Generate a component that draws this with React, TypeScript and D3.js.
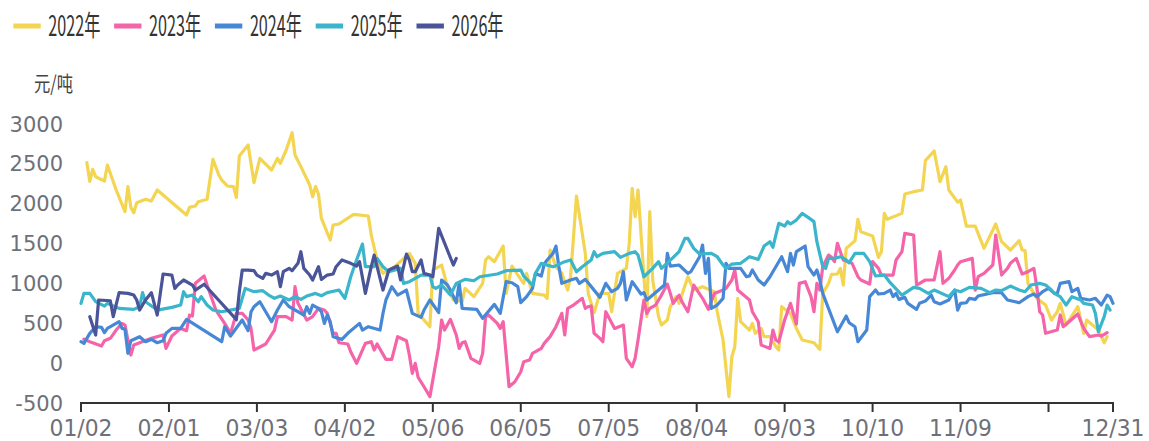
import React from 'react';
import * as d3 from 'd3';

type Pt = [string, number];

// days that are not on the category axis (holidays)
const skippedDays = ['05/01', '05/02', '05/03', '05/04', '10/01', '10/02', '10/03', '10/04', '10/05', '10/06', '10/07'];

const categories: string[] = d3.timeDay
  .range(new Date(2021, 0, 2), new Date(2022, 0, 1))
  .map(d3.timeFormat('%m/%d'))
  .filter(d => !skippedDays.includes(d));

const xTicks = ['01/02', '02/01', '03/03', '04/02', '05/06', '06/05', '07/05', '08/04', '09/03', '10/10', '11/09', '12/09', '12/31'];
const xLabels = ['01/02', '02/01', '03/03', '04/02', '05/06', '06/05', '07/05', '08/04', '09/03', '10/10', '11/09', '12/31'];
const yTicks = [-500, 0, 500, 1000, 1500, 2000, 2500, 3000];

const seriesNames = ['2022年', '2023年', '2024年', '2025年', '2026年'];
const seriesColors = ['#f3d552', '#f564a8', '#4788d6', '#3ab5cb', '#4a5499'];

const s2022: Pt[] = [
  ['01/04', 2515], ['01/05', 2280], ['01/06', 2430], ['01/07', 2340], ['01/08', 2320], ['01/10', 2285], ['01/11', 2485],
  ['01/14', 2172], ['01/17', 1900], ['01/18', 2214], ['01/19', 1954], ['01/20', 1887], ['01/21', 2013], ['01/24', 2055],
  ['01/26', 2034], ['01/28', 2172], ['02/07', 1858], ['02/08', 1954], ['02/10', 1971], ['02/11', 2025], ['02/14', 2055],
  ['02/16', 2557], ['02/18', 2360], ['02/19', 2297], ['02/21', 2222], ['02/23', 2214], ['02/24', 2080], ['02/25', 2598],
  ['02/28', 2736], ['03/02', 2265], ['03/04', 2569], ['03/08', 2423], ['03/10', 2569], ['03/11', 2506], ['03/13', 2674],
  ['03/15', 2891], ['03/16', 2611], ['03/18', 2465], ['03/21', 2235], ['03/22', 2088], ['03/23', 2214], ['03/24', 2122],
  ['03/25', 1816], ['03/28', 1545], ['03/29', 1733], ['03/31', 1745], ['04/05', 1867], ['04/10', 1846], ['04/11', 1607],
  ['04/13', 1294], ['04/15', 1126], ['04/19', 1210], ['04/24', 1377], ['04/26', 1252], ['04/27', 624], ['05/05', 457],
  ['05/06', 1168], ['05/09', 1231], ['05/11', 959], ['05/13', 792], ['05/16', 771], ['05/17', 938], ['05/20', 834],
  ['05/23', 1001], ['05/24', 1294], ['05/25', 1335], ['05/27', 1273], ['05/30', 1469], ['05/31', 875], ['06/02', 1218],
  ['06/04', 1105], ['06/06', 1001], ['06/07', 1126], ['06/09', 875], ['06/13', 854], ['06/14', 813], ['06/15', 1419],
  ['06/17', 1210], ['06/19', 1126], ['06/21', 917], ['06/22', 1084], ['06/24', 2096], ['06/27', 1377], ['06/28', 875],
  ['06/30', 633], ['07/02', 875], ['07/05', 875], ['07/06', 645], ['07/08', 1126], ['07/11', 1189], ['07/12', 1503],
  ['07/13', 2193], ['07/14', 1837], ['07/15', 2172], ['07/17', 1084], ['07/18', 583], ['07/19', 1900], ['07/20', 1043],
  ['07/22', 583], ['07/23', 478], ['07/25', 541], ['07/26', 708], ['07/28', 834], ['07/29', 750], ['08/01', 1084],
  ['08/03', 917], ['08/06', 959], ['08/10', 896], ['08/11', 645], ['08/13', 290], ['08/15', -421], ['08/16', 81],
  ['08/17', 206], ['08/18', 813], ['08/19', 520], ['08/22', 415], ['08/23', 499], ['08/24', 374], ['08/26', 436],
  ['08/27', 332], ['08/29', 332], ['08/31', 206], ['09/01', 164], ['09/02', 708], ['09/05', 624], ['09/07', 436],
  ['09/09', 290], ['09/13', 256], ['09/15', 173], ['09/16', 875], ['09/18', 1001], ['09/19', 1114], ['09/21', 1118],
  ['09/22', 1189], ['09/23', 980], ['09/24', 1440], ['09/27', 1536], ['09/28', 1804], ['09/29', 1649], ['10/10', 1595],
  ['10/12', 1327], ['10/13', 1398], ['10/14', 1879], ['10/15', 1804], ['10/20', 1879], ['10/21', 2122], ['10/24', 2151],
  ['10/27', 2172], ['10/28', 2540], ['10/31', 2661], ['11/02', 2276], ['11/04', 2465], ['11/05', 2172], ['11/08', 2020],
  ['11/09', 2046], ['11/11', 1720], ['11/14', 1720], ['11/17', 1440], ['11/21', 1745], ['11/23', 1524], ['11/26', 1419],
  ['11/29', 1536], ['11/30', 1419], ['12/01', 1411], ['12/02', 1001], ['12/05', 813], ['12/08', 729], ['12/10', 541],
  ['12/12', 645], ['12/13', 750], ['12/15', 478], ['12/19', 708], ['12/21', 374], ['12/22', 541], ['12/26', 415],
  ['12/28', 256], ['12/29', 332],
];

const s2023: Pt[] = [
  ['01/03', 300], ['01/05', 269], ['01/09', 215], ['01/10', 281], ['01/12', 311], ['01/14', 415], ['01/16', 499],
  ['01/17', 478], ['01/18', 290], ['01/19', 102], ['01/20', 227], ['01/26', 311], ['01/30', 353], ['01/31', 185],
  ['02/02', 340], ['02/05', 436], ['02/07', 407], ['02/08', 604], ['02/09', 591], ['02/10', 1001], ['02/13', 1093],
  ['02/14', 980], ['02/17', 666], ['02/20', 499], ['02/22', 374], ['02/24', 624], ['02/26', 624], ['02/28', 541],
  ['03/01', 436], ['03/02', 164], ['03/06', 240], ['03/09', 415], ['03/10', 583], ['03/13', 583], ['03/15', 541],
  ['03/16', 959], ['03/17', 750], ['03/20', 541], ['03/22', 583], ['03/24', 687], ['03/26', 666], ['03/27', 624],
  ['03/29', 374], ['03/30', 374], ['03/31', 256], ['04/03', 240], ['04/04', 143], ['04/06', -3], ['04/09', 248],
  ['04/11', 269], ['04/12', 164], ['04/13', 240], ['04/16', 47], ['04/18', 47], ['04/20', 332], ['04/23', 281],
  ['04/24', 102], ['04/25', -128], ['04/26', -3], ['04/27', -178], ['04/29', -296], ['05/05', -420], ['05/08', 206],
  ['05/09', 541], ['05/10', 415], ['05/12', 549], ['05/14', 353], ['05/15', 185], ['05/16', 256], ['05/17', 269],
  ['05/19', 60], ['05/22', -3], ['05/23', 123], ['05/24', 583], ['05/25', 604], ['05/28', 499], ['05/29', 436],
  ['05/30', 520], ['06/01', -296], ['06/03', -233], ['06/05', -108], ['06/06', 18], ['06/08', 39], ['06/09', 123],
  ['06/12', 185], ['06/13', 248], ['06/15', 332], ['06/17', 457], ['06/19', 625], ['06/20', 353], ['06/21', 687],
  ['06/23', 729], ['06/26', 813], ['06/27', 687], ['06/28', 708], ['06/29', 717], ['06/30', 374], ['07/02', 311],
  ['07/03', 269], ['07/04', 645], ['07/07', 436], ['07/10', 478], ['07/11', 60], ['07/13', -45], ['07/14', 60],
  ['07/15', 290], ['07/17', 792], ['07/18', 624], ['07/19', 687], ['07/21', 729], ['07/23', 854], ['07/25', 992],
  ['07/26', 875], ['07/27', 750], ['07/29', 854], ['07/30', 771], ['08/01', 645], ['08/03', 980], ['08/06', 813],
  ['08/08', 675], ['08/10', 875], ['08/13', 917], ['08/14', 938], ['08/16', 1043], ['08/17', 1168], ['08/18', 917],
  ['08/22', 792], ['08/23', 645], ['08/25', 520], ['08/26', 227], ['08/29', 185], ['08/30', 415], ['08/31', 290],
  ['09/01', 265], ['09/03', 541], ['09/05', 750], ['09/07', 491], ['09/08', 1001], ['09/10', 1022], ['09/12', 834],
  ['09/13', 645], ['09/14', 1001], ['09/15', 917], ['09/16', 1210], ['09/18', 1356], ['09/19', 1327], ['09/20', 1273],
  ['09/21', 1503], ['09/22', 1398], ['09/23', 1294], ['09/26', 1252], ['09/28', 1084], ['09/29', 1043], ['10/09', 992],
  ['10/10', 1273], ['10/12', 1189], ['10/13', 1105], ['10/17', 1105], ['10/18', 1294], ['10/20', 1398], ['10/21', 1628],
  ['10/24', 1607], ['10/25', 980], ['10/28', 1043], ['10/31', 1043], ['11/02', 1398], ['11/03', 1001], ['11/05', 1064],
  ['11/07', 1168], ['11/08', 1231], ['11/09', 1273], ['11/13', 1314], ['11/14', 917], ['11/15', 1084], ['11/17', 1126],
  ['11/20', 1231], ['11/21', 1607], ['11/23', 1105], ['11/25', 1189], ['11/26', 1252], ['11/28', 1314], ['11/30', 1118],
  ['12/02', 1147], ['12/04', 1189], ['12/05', 959], ['12/06', 645], ['12/07', 604], ['12/08', 374], ['12/12', 415],
  ['12/13', 604], ['12/14', 457], ['12/16', 520], ['12/19', 616], ['12/21', 436], ['12/23', 332], ['12/26', 353],
  ['12/27', 340], ['12/29', 382],
];

const s2024: Pt[] = [
  ['01/02', 269], ['01/03', 248], ['01/05', 374], ['01/07', 457], ['01/09', 449], ['01/10', 382], ['01/11', 436],
  ['01/15', 520], ['01/16', 436], ['01/17', 424], ['01/18', 123], ['01/19', 281], ['01/22', 332], ['01/24', 269],
  ['01/26', 298], ['01/28', 256], ['01/30', 281], ['01/31', 374], ['02/02', 436], ['02/05', 436], ['02/07', 549],
  ['02/19', 269], ['02/20', 457], ['02/22', 340], ['02/26', 541], ['02/28', 407], ['03/01', 645], ['03/02', 708],
  ['03/04', 771], ['03/06', 645], ['03/08', 520], ['03/10', 666], ['03/12', 792], ['03/14', 708], ['03/19', 604],
  ['03/20', 708], ['03/21', 624], ['03/22', 729], ['03/24', 687], ['03/25', 645], ['03/26', 499], ['03/27', 604],
  ['03/28', 520], ['03/29', 332], ['04/01', 298], ['04/03', 374], ['04/07', 499], ['04/08', 415], ['04/10', 457],
  ['04/14', 415], ['04/15', 624], ['04/16', 792], ['04/18', 959], ['04/20', 854], ['04/23', 917], ['04/25', 624],
  ['04/28', 574], ['04/29', 666], ['05/05', 792], ['05/08', 633], ['05/09', 1043], ['05/11', 980], ['05/12', 917],
  ['05/14', 758], ['05/15', 1009], ['05/16', 687], ['05/21', 675], ['05/23', 562], ['05/27', 737], ['05/29', 624],
  ['05/31', 1022], ['06/02', 1009], ['06/04', 959], ['06/05', 758], ['06/07', 834], ['06/09', 938], ['06/10', 1126],
  ['06/12', 1093], ['06/13', 1243], ['06/14', 1294], ['06/16', 1377], ['06/17', 1469], ['06/18', 1210], ['06/19', 1001],
  ['06/22', 1043], ['06/24', 1064], ['06/25', 1001], ['06/27', 1051], ['07/02', 825], ['07/04', 1001], ['07/06', 896],
  ['07/08', 938], ['07/09', 1001], ['07/10', 1147], ['07/11', 792], ['07/13', 1022], ['07/16', 867], ['07/17', 884],
  ['07/18', 792], ['07/22', 917], ['07/24', 980], ['07/25', 1377], ['07/26', 1218], ['07/29', 1231], ['08/01', 1126],
  ['08/02', 1147], ['08/03', 1210], ['08/05', 1335], ['08/06', 1482], ['08/07', 1126], ['08/08', 1315], ['08/09', 687],
  ['08/11', 729], ['08/13', 813], ['08/14', 1252], ['08/15', 1189], ['08/19', 1189], ['08/21', 1084], ['08/22', 1093],
  ['08/23', 1168], ['08/25', 1043], ['08/27', 980], ['08/29', 1084], ['08/30', 1147], ['09/02', 1335], ['09/04', 1147],
  ['09/05', 1377], ['09/06', 1231], ['09/07', 1398], ['09/10', 1469], ['09/11', 1210], ['09/13', 1105], ['09/14', 1168],
  ['09/15', 1043], ['09/16', 875], ['09/21', 394], ['09/24', 591], ['09/25', 507], ['09/27', 457], ['09/28', 269],
  ['10/08', 415], ['10/09', 834], ['10/11', 917], ['10/12', 867], ['10/14', 875], ['10/16', 917], ['10/17', 834],
  ['10/18', 875], ['10/19', 800], ['10/21', 825], ['10/22', 750], ['10/25', 675], ['10/26', 750], ['10/28', 779],
  ['10/30', 854], ['10/31', 771], ['11/02', 742], ['11/05', 792], ['11/07', 917], ['11/08', 666], ['11/09', 750],
  ['11/11', 758], ['11/12', 813], ['11/14', 800], ['11/15', 842], ['11/20', 884], ['11/23', 884], ['11/25', 792],
  ['11/29', 758], ['12/02', 834], ['12/04', 867], ['12/05', 834], ['12/07', 896], ['12/09', 938], ['12/11', 875],
  ['12/12', 875], ['12/13', 1001], ['12/16', 1022], ['12/17', 896], ['12/19', 938], ['12/20', 813], ['12/23', 792],
  ['12/25', 813], ['12/27', 729], ['12/29', 854], ['12/30', 834], ['12/31', 750],
];

const s2025: Pt[] = [
  ['01/02', 750], ['01/03', 875], ['01/05', 875], ['01/07', 771], ['01/10', 716], ['01/11', 750], ['01/15', 687],
  ['01/20', 675], ['01/22', 708], ['01/23', 884], ['01/24', 771], ['01/28', 666], ['02/02', 700], ['02/05', 729],
  ['02/06', 896], ['02/07', 834], ['02/09', 854], ['02/11', 771], ['02/12', 834], ['02/14', 729], ['02/16', 666],
  ['02/19', 645], ['02/25', 687], ['02/26', 813], ['02/27', 938], ['03/02', 896], ['03/05', 909], ['03/07', 854],
  ['03/09', 813], ['03/11', 842], ['03/14', 792], ['03/16', 834], ['03/18', 800], ['03/20', 842], ['03/23', 875],
  ['03/25', 846], ['03/27', 884], ['03/31', 917], ['04/02', 813], ['04/04', 1084], ['04/06', 1294], ['04/08', 1494],
  ['04/09', 1210], ['04/12', 1210], ['04/13', 1314], ['04/15', 1210], ['04/17', 1147], ['04/21', 1189], ['04/22', 1001],
  ['04/24', 1022], ['04/28', 1105], ['05/05', 1105], ['05/06', 959], ['05/07', 938], ['05/09', 980], ['05/12', 854],
  ['05/14', 1001], ['05/17', 1051], ['05/20', 1034], ['05/22', 1084], ['05/28', 1118], ['05/31', 1160], ['06/05', 1168],
  ['06/06', 1093], ['06/09', 980], ['06/10', 1126], ['06/12', 1252], ['06/16', 1210], ['06/17', 1223], ['06/20', 1273],
  ['06/22', 1294], ['06/24', 1147], ['06/26', 1210], ['06/29', 1294], ['06/30', 1398], ['07/01', 1335], ['07/03', 1377],
  ['07/07', 1398], ['07/09', 1327], ['07/12', 1377], ['07/14', 1398], ['07/15', 1356], ['07/17', 1084], ['07/20', 1189],
  ['07/22', 1273], ['07/23', 1189], ['07/27', 1327], ['07/29', 1398], ['07/31', 1565], ['08/01', 1565], ['08/03', 1440],
  ['08/05', 1369], ['08/09', 1377], ['08/11', 1335], ['08/13', 1231], ['08/14', 1189], ['08/16', 1243], ['08/19', 1252],
  ['08/22', 1335], ['08/25', 1302], ['08/27', 1469], ['08/29', 1524], ['08/30', 1453], ['08/31', 1607], ['09/01', 1754],
  ['09/03', 1720], ['09/04', 1775], ['09/05', 1745], ['09/07', 1795], ['09/09', 1879], ['09/11', 1829], ['09/13', 1775],
  ['09/14', 1524], ['09/16', 1210], ['09/17', 1189], ['09/18', 1314], ['09/20', 1314], ['09/22', 1335], ['09/24', 1294],
  ['09/25', 1260], ['09/27', 1377], ['09/30', 1377], ['10/09', 1273], ['10/11', 1093], ['10/14', 1105], ['10/16', 1009],
  ['10/20', 854], ['10/24', 951], ['10/26', 938], ['10/29', 875], ['10/31', 917], ['11/05', 834], ['11/07', 917],
  ['11/09', 896], ['11/12', 951], ['11/16', 938], ['11/19', 884], ['11/21', 917], ['11/23', 909], ['11/26', 967],
  ['11/29', 917], ['12/01', 896], ['12/03', 980], ['12/06', 1001], ['12/08', 980], ['12/10', 917], ['12/11', 875],
  ['12/13', 834], ['12/15', 729], ['12/17', 834], ['12/20', 792], ['12/21', 750], ['12/24', 729], ['12/25', 624],
  ['12/26', 394], ['12/28', 583], ['12/29', 729], ['12/30', 666],
];

const s2026: Pt[] = [
  ['01/05', 583], ['01/07', 353], ['01/08', 792], ['01/12', 783], ['01/13', 583], ['01/15', 884], ['01/18', 875],
  ['01/20', 854], ['01/21', 792], ['01/22', 666], ['01/24', 792], ['01/26', 884], ['01/28', 604], ['01/30', 1118],
  ['02/02', 1105], ['02/03', 938], ['02/04', 980], ['02/06', 1043], ['02/09', 980], ['02/10', 917], ['02/13', 990],
  ['02/24', 545], ['02/25', 896], ['02/26', 1168], ['02/28', 1168], ['03/02', 1160], ['03/03', 1105], ['03/05', 1064],
  ['03/06', 1126], ['03/08', 1105], ['03/10', 1147], ['03/11', 959], ['03/12', 1147], ['03/14', 1189], ['03/15', 1160],
  ['03/17', 1252], ['03/18', 1398], ['03/19', 1189], ['03/21', 1105], ['03/22', 1043], ['03/24', 1210], ['03/25', 1051],
  ['03/27', 1105], ['03/29', 1118], ['03/30', 1210], ['04/01', 1294], ['04/04', 1252], ['04/06', 1218], ['04/07', 1273],
  ['04/09', 875], ['04/11', 1210], ['04/12', 1356], ['04/13', 1210], ['04/15', 917], ['04/17', 1168], ['04/20', 1218],
  ['04/21', 1043], ['04/23', 1369], ['04/24', 1294], ['04/25', 1147], ['04/26', 1147], ['04/28', 1294], ['04/29', 1126],
  ['05/05', 1105], ['05/06', 1084], ['05/08', 1691], ['05/13', 1231], ['05/14', 1314],
];

const allSeries = [s2022, s2023, s2024, s2025, s2026];

export default function App() {
  const width = 1149;
  const height = 441;
  const left = 81;
  const right = 1113;
  const top = 124;
  const bottom = 403;

  const x = d3.scalePoint<string>().domain(categories).range([left, right]);
  const y = d3.scaleLinear().domain([-500, 3000]).range([bottom, top]);

  const line = d3.line<Pt>()
    .defined(d => x(d[0]) !== undefined)
    .x(d => x(d[0]) as number)
    .y(d => y(d[1]));

  const cjk = '"Noto Sans CJK SC", "Noto Sans", sans-serif';

  return (
    <svg width={width} height={height} style={{ position: 'absolute', left: 0, top: 0, background: '#fff' }}>
      {/* legend */}
      <g>
        {seriesNames.map((name, i) => {
          const lx = 13.3 + i * 100.8;
          return (
            <g key={name}>
              <line x1={lx} x2={lx + 27.4} y1={26} y2={26} stroke={seriesColors[i]} strokeWidth={5} />
              <text x={lx + 35} y={35.5} fontFamily={cjk} fontSize={28} fill="#333"
                textLength={52} lengthAdjust="spacingAndGlyphs">{name}</text>
            </g>
          );
        })}
      </g>

      {/* y axis title */}
      <text x={34} y={91} fontFamily={cjk} fontSize={21} fill="#444" textLength={39} lengthAdjust="spacingAndGlyphs">元/吨</text>

      {/* y tick labels */}
      {yTicks.map(t => (
        <text key={t} x={63} y={y(t)} dy="0.36em" textAnchor="end" fontFamily='"DejaVu Sans", sans-serif'
          fontSize={21} fill="#6e7079">{t}</text>
      ))}

      {/* series */}
      {allSeries.map((s, i) => (
        <path key={seriesNames[i]} d={line(s) ?? ''} fill="none" stroke={seriesColors[i]} strokeWidth={3.2}
          strokeLinejoin="round" strokeLinecap="round" />
      ))}

      {/* x axis */}
      <line x1={left - 1} x2={right + 1} y1={bottom} y2={bottom} stroke="#333" strokeWidth={2} />
      {xTicks.map(t => (
        <line key={t} x1={x(t)} x2={x(t)} y1={bottom} y2={bottom + 9} stroke="#333" strokeWidth={2} />
      ))}
      {xLabels.map(t => (
        <text key={t} x={x(t)} y={435.5} textAnchor="middle" fontFamily='"DejaVu Sans", sans-serif' fontSize={23}
          fill="#6e7079" textLength={63} lengthAdjust="spacingAndGlyphs">{t}</text>
      ))}
    </svg>
  );
}
